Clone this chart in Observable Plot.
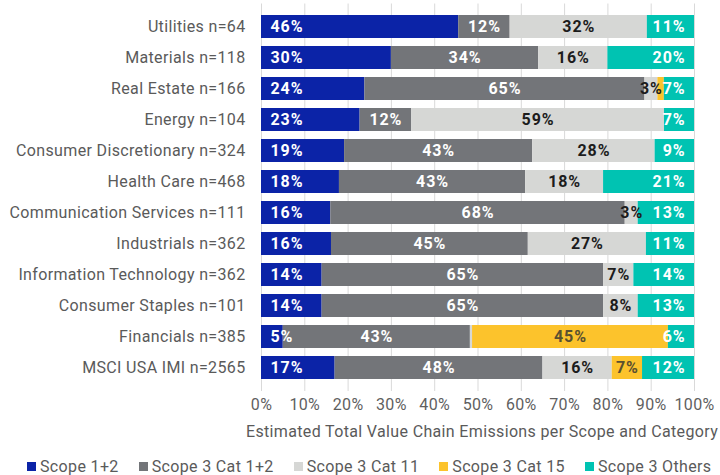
<!DOCTYPE html>
<html>
<head>
<meta charset="utf-8">
<script src="https://cdn.jsdelivr.net/npm/d3@7"></script>
<script src="https://cdn.jsdelivr.net/npm/@observablehq/plot@0.6"></script>
<style>
  html, body { margin: 0; padding: 0; background: #fff; }
  body { width: 720px; height: 475px; overflow: hidden; font-family: Roboto, sans-serif; }
  #chart svg { letter-spacing: 0.35px; }
  #chart g[font-weight="bold"] text { letter-spacing: 0.9px; }
  #legend { padding-left: 27px; margin-top: 11px; width: 693px; }
  .lg-swatches { font-family: Roboto, sans-serif; font-size: 16px; letter-spacing: 0.35px; color: #5a5a5a; min-height: 20px; margin: 0; flex-wrap: nowrap !important; white-space: nowrap; }
  .lg-swatch { margin-right: 20px; white-space: nowrap; }
  .lg-swatch:last-child { margin-right: 0; }
  .lg-swatch > svg { margin-right: 4px; }
</style>
</head>
<body>
<div id="chart"></div>
<div id="legend"></div>
<script>
const sectors = ["Utilities n=64", "Materials n=118", "Real Estate n=166", "Energy n=104",
  "Consumer Discretionary n=324", "Health Care n=468", "Communication Services n=111",
  "Industrials n=362", "Information Technology n=362", "Consumer Staples n=101",
  "Financials n=385", "MSCI USA IMI n=2565"];
const scopes = ["Scope 1+2", "Scope 3 Cat 1+2", "Scope 3 Cat 11", "Scope 3 Cat 15", "Scope 3 Others"];
const colors = ["#0b23a7", "#737579", "#d6d7d5", "#fcc32c", "#00c3b2"];
const scope12 = [46, 30, 24, 23, 19, 18, 16, 16, 14, 14, 5, 17];
const cat12   = [12, 34, 65, 12, 43, 43, 68, 45, 65, 65, 43, 48];
const cat11   = [32, 16, 3, 59, 28, 18, 3, 27, 7, 8, 0.5, 16];
const cat15   = [0, 0, 1.5, 0, 0, 0, 0, 0, 0, 0, 45, 7];
const others  = [11, 20, 7, 7, 9, 21, 13, 11, 14, 13, 6, 12];
const xTicks = [0, 0.1, 0.2, 0.3, 0.4, 0.5, 0.6, 0.7, 0.8, 0.9, 1];
const axisTitle = "Estimated Total Value Chain Emissions per Scope and Category";

const series = [scope12, cat12, cat11, cat15, others];
const data = [];
sectors.forEach((s, i) => {
  scopes.forEach((sc, j) => data.push({sector: s, scope: sc, value: series[j][i]}));
});

const stackOpts = {x: "value", y: "sector", z: "scope", order: scopes, offset: "normalize"};
const lab = (sc) => (d) => (d.scope === sc && d.value >= 2) ? `${d.value}%` : "";
const textBase = {fontSize: 16, fontWeight: "bold", fontFamily: "Roboto, sans-serif"};

const chart = Plot.plot({
  width: 720,
  height: 445,
  marginLeft: 261,
  marginRight: 26,
  marginTop: 3.5,
  marginBottom: 54,
  style: {fontFamily: "Roboto, sans-serif", background: "#fff"},
  x: {domain: [0, 1]},
  y: {domain: sectors, padding: 0.27},
  color: {domain: scopes, range: colors},
  marks: [
    Plot.gridX(xTicks, {stroke: "#d9d9d9", strokeOpacity: 1}),
    Plot.barX(data, Plot.stackX({...stackOpts, fill: "scope"})),
    Plot.text(data, Plot.stackX1({...stackOpts, ...textBase, text: lab(scopes[0]), textAnchor: "start", dx: 9, fill: "#fff"})),
    Plot.text(data, Plot.stackX({...stackOpts, ...textBase, text: lab(scopes[1]), fill: "#fff"})),
    Plot.text(data, Plot.stackX({...stackOpts, ...textBase, text: lab(scopes[2]), fill: "#1c1c1c"})),
    Plot.text(data, Plot.stackX({...stackOpts, ...textBase, text: lab(scopes[3]), fill: "#5a5030"})),
    Plot.text(data, Plot.stackX2({...stackOpts, ...textBase, text: lab(scopes[4]), textAnchor: "end", dx: -9, fill: "#fff"})),
    Plot.axisY({tickSize: 0, tickPadding: 16, fontSize: 16, color: "#5a5a5a", label: null}),
    Plot.axisX({ticks: xTicks, tickFormat: d3.format(".0%"), tickSize: 0, tickPadding: 7, fontSize: 16, color: "#5f5f5f", label: null}),
    Plot.text([axisTitle], {frameAnchor: "bottom", lineAnchor: "middle", dy: 40, dx: 4, fontSize: 16, fill: "#5a5a5a"})
  ]
});
document.getElementById("chart").appendChild(chart);

const legend = Plot.legend({
  color: {domain: scopes, range: colors},
  legend: "swatches",
  swatchSize: 9,
  className: "lg"
});
document.getElementById("legend").appendChild(legend);
</script>
</body>
</html>
